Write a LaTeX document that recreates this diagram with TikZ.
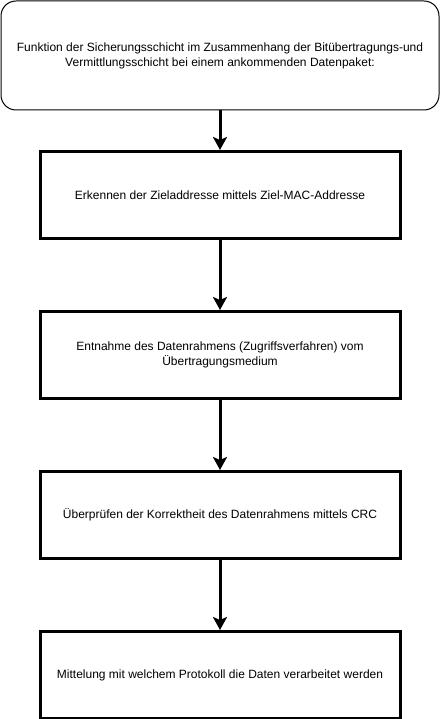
\documentclass[tikz,border=0pt]{standalone}
\usepackage{fontspec}
\setmainfont{Liberation Sans}
\usetikzlibrary{positioning, arrows.meta}

\begin{document}
\begin{tikzpicture}[
                    x=1pt, y=1pt,
                    titlenode/.style={rectangle, rounded corners=15pt, draw=black, line width=1pt, minimum width=438pt, minimum height=109pt, align=center, font=\fontsize{12}{15}\selectfont},
                    stepnode/.style={rectangle, draw=black, line width=3pt, minimum width=360pt, minimum height=87pt, align=center, font=\fontsize{12}{15}\selectfont},
                    flow/.style={line width=3pt, -{Stealth[width=14pt, length=13pt, inset=3pt]}},
                ]
                    \useasboundingbox (0,0) rectangle (441,-719);
                    %Nodes
                    \node[titlenode](title) at (220,-55.5) {Funktion der Sicherungsschicht im Zusammenhang der Bitübertragungs-und\\Vermittlungsschicht bei einem ankommenden Datenpaket:};
                    \node[stepnode](mac)[below=39.5pt of title] {Erkennen der Zieladdresse mittels Ziel-MAC-Addresse};
                    \node[stepnode](frame)[below=70pt of mac] {Entnahme des Datenrahmens (Zugriffsverfahren) vom\\Übertragungsmedium};
                    \node[stepnode](crc)[below=70pt of frame] {Überprüfen der Korrektheit des Datenrahmens mittels CRC};
                    \node[stepnode](proto)[below=70pt of crc] {Mittelung mit welchem Protokoll die Daten verarbeitet werden};

                    %Lines
                    \draw[flow](title.south) -- (mac.north);
                    \draw[flow](mac.south) -- (frame.north);
                    \draw[flow](frame.south) -- (crc.north);
                    \draw[flow](crc.south) -- (proto.north);
                \end{tikzpicture}
\end{document}
